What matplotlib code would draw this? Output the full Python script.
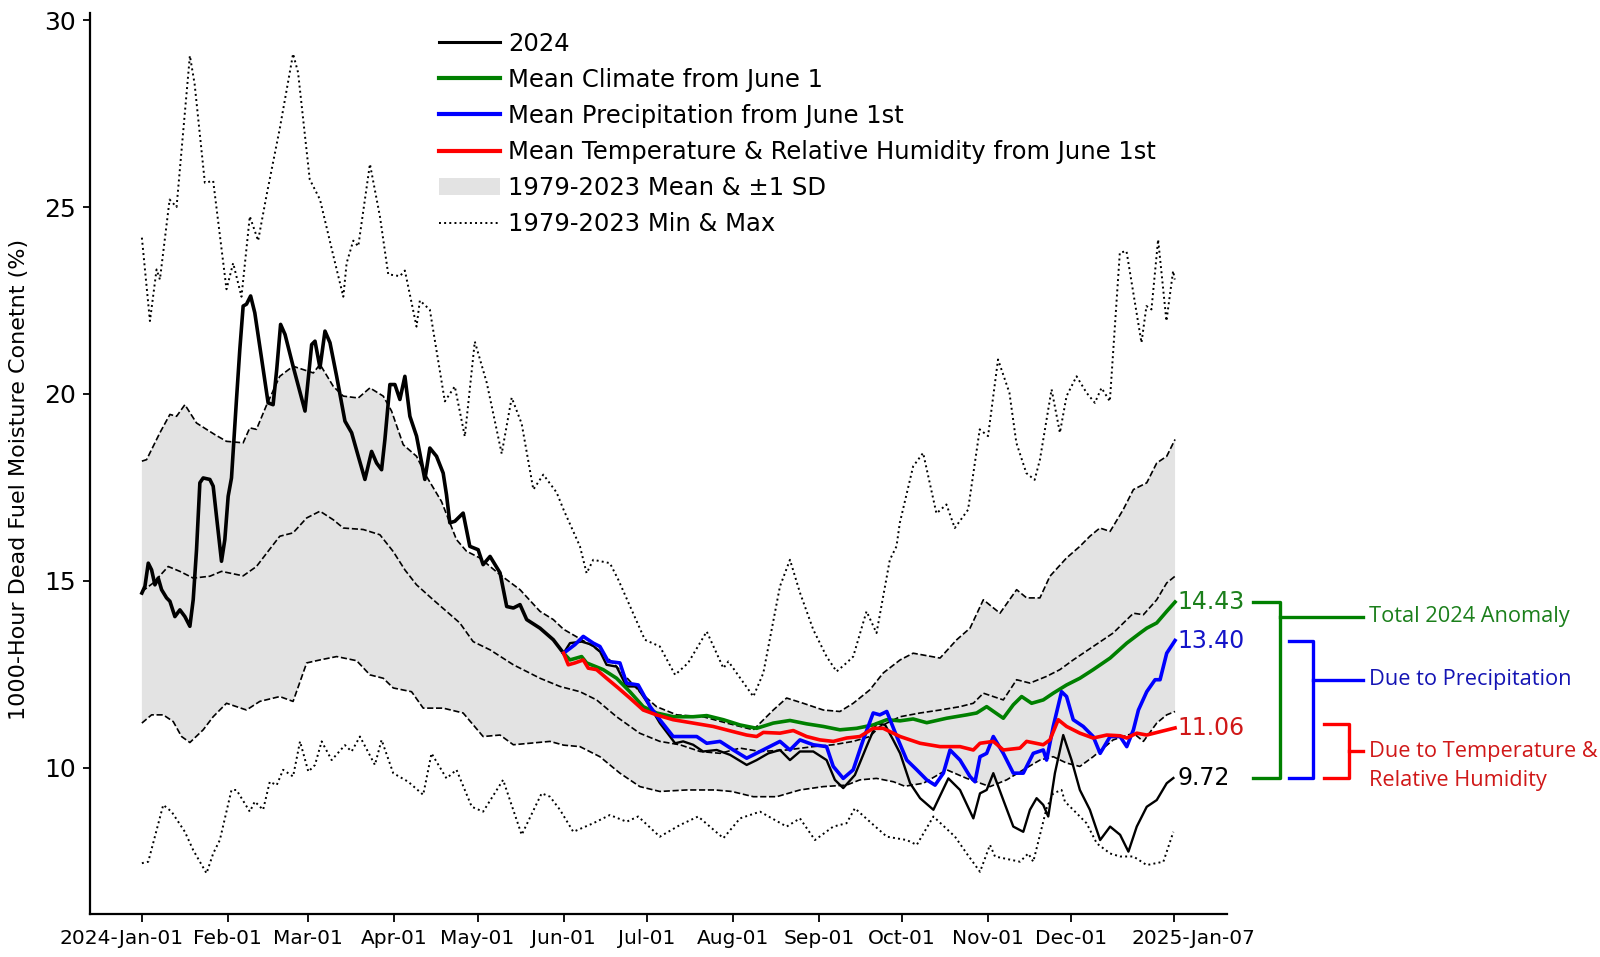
import numpy as np
import pandas as pd
import matplotlib
matplotlib.use("Agg")
import matplotlib.pyplot as plt
import matplotlib.dates as mdates
from matplotlib.lines import Line2D
from matplotlib.patches import Patch
from matplotlib import transforms

START = pd.Timestamp("2024-01-01")

# 1979-2023 max (dotted)
max_days = [0, 2.9, 5.3, 6.5, 10, 12.5, 17.3, 19, 22.7, 25.7, 30.5, 32.9, 35.9, 38.9, 41.9, 44.9,
            49.7, 54.5, 56.3, 60.5, 64.2, 69, 72.6, 73.8, 76.2, 78, 82.2, 85.8, 88.8, 93, 94.8, 99,
            100.2, 103.8, 109.2, 112.8, 116.4, 120, 124.3, 129.7, 133.3, 136.9, 141.1, 144.7, 149.5,
            152, 157.9, 159.1, 160.3, 162.7, 168.7, 171.7, 181.3, 186.7, 192.2, 196.9, 203.6, 209.6,
            211.4, 220.4, 224, 230, 233.6, 237.2, 242, 246.8, 250.4, 254, 256.4, 261.2, 264.8, 269.6,
            272, 273.2, 278, 281.6, 286.4, 290, 293, 297.8, 302, 305, 308.6, 312.7, 315.2, 318.8,
            321.8, 323.7, 327.9, 330.9, 333.3, 336.9, 340.5, 343.5, 345.9, 348.9, 352.5, 354.9,
            360.3, 362.1, 363.9, 366.3, 369.3, 371.7, 372.3]
max_vals = [24.18, 21.95, 23.33, 23.06, 25.2, 25.0, 29.05, 28.3, 25.65, 25.7, 22.8, 23.5, 22.6, 24.75,
            24.1, 25.3, 27.1, 29.1, 28.6, 25.74, 25.2, 23.7, 22.6, 23.5, 24.1, 23.95, 26.15, 24.75,
            23.2, 23.15, 23.3, 21.8, 22.5, 22.25, 19.8, 20.2, 18.86, 21.4, 20.3, 18.4, 19.9, 19.2,
            17.44, 17.84, 17.36, 16.9, 15.92, 15.56, 15.2, 15.56, 15.47, 15.03, 13.42, 13.24, 12.48,
            12.8, 13.64, 12.66, 12.84, 11.9, 12.53, 14.85, 15.56, 14.68, 13.69, 12.97, 12.57, 12.8,
            12.97, 14.18, 13.6, 15.56, 15.92, 16.55, 18.06, 18.42, 16.8, 17.04, 16.41, 16.9, 19.05,
            18.87, 20.92, 20.03, 18.69, 17.88, 17.7, 18.24, 20.12, 18.96, 19.94, 20.47, 20.03, 19.76,
            20.16, 19.8, 23.78, 23.82, 21.37, 22.35, 22.26, 24.13, 21.95, 23.29, 23.06]

# 1979-2023 min (dotted)
min_days = [0, 2.3, 7.7, 10.7, 15.5, 18.5, 23.3, 25.7, 28.1, 32.3, 34.1, 38.9, 40.7, 43.7, 46.1, 48.6,
            50.9, 54.5, 57, 60, 62.4, 64.8, 68.4, 73.2, 75.6, 78.6, 84, 86.4, 90.6, 96, 101.4, 104.4,
            109.8, 113.4, 118.9, 123, 130.2, 136.9, 144.1, 147.1, 150.7, 155.5, 162.7, 168.7, 174.7,
            178.9, 186.7, 193.9, 200.5, 209.6, 215.6, 222.8, 232.4, 237.2, 242.6, 249.2, 254, 257,
            262.4, 268.5, 275.7, 279.3, 285.3, 293.1, 297.3, 302.1, 305.7, 307.5, 316.5, 319.5, 321.3,
            326.1, 328.5, 331.5, 332.7, 336.9, 340.5, 344.2, 349, 352.6, 357.4, 362.2, 368.2, 371.8]
min_vals = [7.44, 7.48, 9.0, 8.82, 8.28, 7.79, 7.17, 7.7, 8.06, 9.4, 9.4, 8.82, 9.09, 8.87, 9.62, 9.53,
            9.94, 9.76, 10.7, 9.89, 10.07, 10.7, 10.2, 10.6, 10.43, 10.83, 10.07, 10.74, 9.85, 9.62,
            9.27, 10.38, 9.71, 9.94, 8.95, 8.82, 9.67, 8.2, 9.31, 9.22, 8.87, 8.28, 8.51, 8.73, 8.55,
            8.69, 8.15, 8.46, 8.69, 8.11, 8.64, 8.82, 8.42, 8.64, 8.06, 8.42, 8.51, 8.91, 8.55, 8.15,
            8.06, 7.93, 8.69, 8.15, 7.7, 7.21, 7.93, 7.62, 7.48, 7.7, 7.48, 8.91, 9.31, 9.4, 9.09,
            8.78, 8.51, 7.97, 7.7, 7.62, 7.62, 7.39, 7.48, 8.28]

# mean + 1 SD (dashed)
sd_hi_days = [0, 1.7, 6.5, 10.1, 12.5, 15.5, 19.7, 23.3, 26.3, 30.5, 36.5, 38.9, 41.3, 45, 49.7, 54.5,
              61.8, 64.2, 69, 72.6, 78, 82.2, 87, 90, 94.2, 99, 102.6, 108, 113.4, 117, 121.8, 129.1,
              136.3, 143.5, 148.3, 152, 155.5, 162.7, 169.9, 179.4, 185.5, 192.8, 202.3, 210.8, 220.4,
              227.6, 232.4, 238.4, 245.6, 251.6, 256.4, 262.4, 267.2, 273.3, 278, 287.7, 293.7, 298.5,
              303.3, 309.3, 315.3, 318.9, 323.7, 327.3, 333.3, 338.1, 341.7, 345.3, 349, 353.7, 357.4,
              362.2, 365.8, 369.4, 372.4]
sd_hi_vals = [18.2, 18.24, 18.96, 19.45, 19.4, 19.71, 19.22, 19.05, 18.91, 18.73, 18.69, 19.09, 19.05,
              19.71, 20.47, 20.74, 20.56, 20.79, 20.2, 19.94, 19.89, 20.16, 19.94, 19.54, 18.64, 18.33,
              17.79, 17.12, 16.1, 15.79, 15.61, 15.16, 14.76, 14.18, 13.96, 13.7, 13.55, 13.24, 12.8,
              12.03, 11.63, 11.41, 11.36, 11.19, 11.01, 11.54, 11.86, 11.72, 11.54, 11.5, 11.72, 12.08,
              12.53, 12.88, 13.06, 12.93, 13.42, 13.73, 14.49, 14.13, 14.76, 14.54, 14.54, 15.12, 15.61,
              15.92, 16.19, 16.41, 16.32, 16.9, 17.44, 17.62, 18.15, 18.33, 18.78]

# 1979-2023 mean (dashed)
mean_days = [0, 4.1, 9.5, 13.7, 18.5, 24.5, 28.7, 36.5, 41.3, 45, 49.7, 54.5, 59.4, 64.2, 69, 72.6,
             79.8, 85.8, 90.6, 94.8, 99, 105, 109.8, 114.6, 119.4, 125.5, 133.9, 143.5, 150.7, 157.9,
             163.9, 171.1, 179.4, 186.7, 193.9, 201.2, 208.4, 215.6, 222.8, 232.4, 242, 249.2, 256.4,
             262.4, 266, 273.3, 280.5, 287.7, 294.9, 299.7, 303.3, 306.9, 310.5, 315.3, 320.1, 326.1,
             330.9, 335.7, 342.9, 350.1, 357.4, 361, 365.8, 369.4, 372.4]
mean_vals = [14.71, 14.94, 15.38, 15.25, 15.07, 15.12, 15.25, 15.13, 15.38, 15.74, 16.19, 16.28, 16.68,
             16.86, 16.63, 16.41, 16.37, 16.23, 15.78, 15.29, 14.89, 14.49, 14.18, 13.87, 13.37, 13.15,
             12.75, 12.39, 12.17, 12.03, 11.81, 11.36, 10.92, 10.7, 10.61, 10.43, 10.38, 10.52, 10.43,
             10.47, 10.56, 10.61, 10.7, 10.83, 11.1, 11.36, 11.46, 11.54, 11.63, 11.72, 11.99, 11.9,
             11.81, 12.35, 12.26, 12.44, 12.62, 12.88, 13.24, 13.6, 14.13, 14.09, 14.49, 14.94, 15.12]

# mean - 1 SD (dashed)
sd_lo_days = [0, 3.5, 7.7, 11.3, 14.3, 17.3, 22.1, 25.7, 30.5, 37.7, 42.5, 49.7, 54.5, 59.4, 64.2, 70.2,
              77.4, 82.2, 87, 90.6, 97.2, 101.4, 108.6, 115.8, 123, 129.1, 133.9, 147.1, 152, 157.9,
              165.1, 172.3, 179.5, 186.7, 196.3, 206.6, 212.6, 220.4, 228.8, 237.2, 245.6, 254, 258.8,
              264.8, 270.9, 275, 281.7, 290.1, 297.3, 305.7, 311.7, 317.7, 323.7, 328.5, 333.3, 338.1,
              342.9, 350.1, 357.4, 361, 365.8, 369.4, 372.4]
sd_lo_vals = [11.19, 11.41, 11.41, 11.23, 10.83, 10.67, 11.01, 11.36, 11.72, 11.54, 11.77, 11.9, 11.77,
              12.8, 12.88, 12.97, 12.86, 12.48, 12.39, 12.13, 12.03, 11.59, 11.59, 11.46, 10.83, 10.87,
              10.61, 10.7, 10.6, 10.56, 10.29, 9.85, 9.49, 9.36, 9.4, 9.4, 9.36, 9.22, 9.22, 9.4, 9.49,
              9.53, 9.67, 9.71, 9.62, 9.5, 9.58, 9.94, 9.71, 9.49, 9.67, 9.94, 10.2, 10.29, 10.12,
              10.03, 10.29, 10.74, 10.92, 10.7, 11.19, 11.41, 11.5]

# 2024 observed
obs_days = [0, 1.1, 2.3, 3.5, 4.7, 5.9, 7.1, 8.9, 10.1, 11.9, 13.7, 15.5, 17.3, 18.5, 19.7, 20.9, 22.1,
            24.5, 25.7, 26.9, 28.7, 29.9, 31.1, 32.3, 34.1, 35.3, 36.5, 37.7, 39.2, 40.7, 43.2, 45.5,
            47.3, 48.6, 50, 51.6, 54.5, 58.8, 61.2, 62.4, 64.2, 66, 67.8, 70.2, 73.2, 75.6, 78, 80.4,
            82.8, 84.6, 86.4, 87.6, 89.4, 91.2, 93, 94.8, 96.6, 99, 102, 103.8, 106.2, 108.6, 109.8,
            111, 112.8, 115.8, 118.2, 121.2, 123, 125.5, 129.1, 131.5, 133.9, 136.3, 138.7, 143.5,
            148.3, 152,
            154.3, 158.5, 162.1, 165.1, 167.5, 171.1, 174.7, 178.3, 183.2, 186.7, 192.2, 195.1, 198.7,
            202.3, 207.2, 212, 218, 221.6, 225.8, 230, 233.6, 237.2, 242, 246.8, 249.8, 252.8, 257,
            261.2, 264.8, 267.9, 270.8, 273.3, 276.9, 280.5, 285.3, 290.7, 294.9, 299.7, 302.1, 304.5,
            306.9, 310.5, 314.1, 317.7, 320.1, 322.5, 324.9, 326.7, 329.1, 332.1, 335.1, 338.1, 341.7,
            345.4, 349, 352.6, 355.6, 358.6, 362.2, 365.8, 369.4, 371.8]
obs_vals = [14.67, 14.85, 15.47, 15.29, 14.89, 15.07, 14.76, 14.54, 14.45, 14.04, 14.22, 14.04, 13.78,
            14.49, 15.83, 17.62, 17.75, 17.71, 17.53, 16.72, 15.52, 16.1, 17.26, 17.75, 19.85, 21.19,
            22.35, 22.4, 22.62, 22.17, 20.92, 19.76, 19.71, 20.65, 21.86, 21.59, 20.74, 19.54, 21.32,
            21.41, 20.7, 21.68, 21.37, 20.47, 19.27, 18.96, 18.33, 17.71, 18.46, 18.15, 17.97, 18.78,
            20.25, 20.25, 19.85, 20.47, 19.4, 18.87, 17.71, 18.55, 18.33, 17.88, 17.3, 16.55, 16.59,
            16.81, 15.92, 15.83, 15.43, 15.65, 15.21, 14.31, 14.27, 14.36, 13.96, 13.73, 13.42, 13.06,
            13.33, 13.37, 13.29, 13.11, 12.75, 12.7, 12.17, 12.17, 11.63, 11.19, 10.65, 10.7, 10.61,
            10.43, 10.47, 10.34, 10.07, 10.2, 10.38, 10.47, 10.2, 10.43, 10.43, 10.2, 9.67, 9.45, 9.8,
            10.56, 11.19, 11.14, 10.74, 10.38, 9.58, 9.18, 8.87, 9.71, 9.4, 8.64, 9.31, 9.4, 9.85,
            9.13, 8.42, 8.28, 8.87, 9.18, 9.0, 8.69, 9.85, 10.87, 10.2, 9.4, 8.87, 8.06, 8.42, 8.2,
            7.75, 8.42, 8.95, 9.13, 9.58, 9.72]
june_idx = 77  # index of June 1 in obs_days

# counterfactual runs from June 1
clim_days = [152, 154.3, 158.5, 160.3, 166.3, 171.1, 175.9, 180.7, 185.5, 191.5, 198.7, 203.6, 209.6,
             215.6, 221.6, 227.6, 233.6, 239.6, 245.6, 251.6, 257.6, 263.6, 268.5, 273.3, 278, 282.9,
             290.1, 297.3, 300.9, 304.5, 310.5, 314.1, 317.1, 320.7, 324.9, 328.5, 333.3, 338.1,
             342.9, 349, 355, 359.8, 362.2, 365.8, 369.4, 372.4]
clim_vals = [13.06, 12.88, 12.97, 12.8, 12.62, 12.39, 12.03, 11.63, 11.46, 11.36, 11.36, 11.39, 11.28,
             11.14, 11.05, 11.19, 11.26, 11.17, 11.1, 11.01, 11.05, 11.14, 11.28, 11.25, 11.3, 11.2,
             11.32, 11.41, 11.46, 11.63, 11.32, 11.68, 11.9, 11.72, 11.81, 11.99, 12.21, 12.39, 12.62,
             12.93, 13.33, 13.6, 13.73, 13.87, 14.18, 14.43]

precip_days = [152, 156.1, 159.1, 162.7, 165.1, 168.1, 172.3, 174.7, 178.9, 183.2, 186.7, 191.5, 196.4,
               200, 203.6, 208.4, 213.2, 218, 222.8, 230, 233.6, 237.2, 242, 246.8, 249.2, 252.8, 256.4,
               260, 263.6, 266, 268.5, 272.1, 275.7, 279.3, 282.9, 285.9, 288.9, 291.3, 294.9, 298.5,
               300.3, 302.1, 304.5, 306.9, 310.5, 314.1, 317.7, 321.3, 324.9, 326.1, 328.5, 331.5,
               333.3, 335.7, 339.3, 342.9, 345.4, 349, 352.6, 355, 357.4, 359.2, 362.2, 365.2, 367,
               369.4, 372.4]
precip_vals = [13.06, 13.29, 13.51, 13.33, 13.24, 12.84, 12.8, 12.26, 12.21, 11.63, 11.28, 10.83, 10.83,
               10.83, 10.65, 10.7, 10.47, 10.25, 10.43, 10.7, 10.47, 10.74, 10.61, 10.56, 10.03, 9.71,
               9.94, 10.74, 11.46, 11.41, 11.5, 10.83, 10.2, 9.94, 9.67, 9.53, 9.85, 10.47, 10.2, 9.76,
               9.62, 10.29, 10.38, 10.83, 10.38, 9.85, 9.85, 10.38, 10.47, 10.2, 11.1, 12.03, 11.9,
               11.28, 11.1, 10.83, 10.38, 10.83, 10.83, 10.56, 11.01, 11.54, 12.03, 12.35, 12.35, 13.06,
               13.40]

temp_days = [152, 153.7, 156.1, 159.1, 160.9, 163.9, 167.5, 171.7, 175.9, 180.7, 185.5, 191.5, 198.7,
             205.9, 213.2, 218, 221.6, 224, 230, 234.8, 239.6, 244.4, 249.2, 254, 258.8, 263.6, 267.2,
             273.3, 280.5, 287.7, 294.9, 299.7, 302.1, 306.9, 310.5, 316.5, 318.9, 324.9, 327.3, 330.3,
             333.3, 338.1, 342.9, 347.8, 352.6, 355, 358.6, 362.2, 367, 372.4]
temp_vals = [13.06, 12.75, 12.8, 12.88, 12.66, 12.62, 12.39, 12.13, 11.86, 11.54, 11.41, 11.28, 11.19,
             11.1, 10.96, 10.87, 10.83, 10.94, 10.92, 10.99, 10.83, 10.74, 10.7, 10.79, 10.83, 11.05,
             11.05, 10.83, 10.65, 10.56, 10.56, 10.47, 10.65, 10.7, 10.47, 10.52, 10.7, 10.61, 10.74,
             11.28, 11.1, 10.92, 10.79, 10.87, 10.85, 10.79, 10.92, 10.87, 10.96, 11.06]

end_labels = ["14.43", "13.40", "11.06", "9.72"]
end_values = [14.43, 13.40, 11.06, 9.72]
end_colors = ["#1b7f1b", "#1414c8", "#d01818", "black"]

tick_dates = ["2024-01-01", "2024-02-01", "2024-03-01", "2024-04-01", "2024-05-01", "2024-06-01",
              "2024-07-01", "2024-08-01", "2024-09-01", "2024-10-01", "2024-11-01", "2024-12-01",
              "2025-01-07"]
tick_labels = ["2024-Jan-01", "Feb-01", "Mar-01", "Apr-01", "May-01", "Jun-01", "Jul-01", "Aug-01",
               "Sep-01", "Oct-01", "Nov-01", "Dec-01", "2025-Jan-07"]


def to_x(days):
    d = START + pd.to_timedelta(np.asarray(days, dtype=float), unit="D")
    return mdates.date2num(d.to_pydatetime())


fig = plt.figure(figsize=(16, 9.57), dpi=100)
ax = fig.add_axes([0.05625, 0.0449, 0.7104, 0.9418])

band_x = np.concatenate([to_x(sd_hi_days), to_x(sd_lo_days)[::-1]])
band_y = np.concatenate([sd_hi_vals, sd_lo_vals[::-1]])
ax.fill(band_x, band_y, color="#e3e3e3", lw=0, zorder=1)

for d, v in [(sd_hi_days, sd_hi_vals), (mean_days, mean_vals), (sd_lo_days, sd_lo_vals)]:
    ax.plot(to_x(d), v, color="black", ls="--", lw=1.2, zorder=2)
for d, v in [(max_days, max_vals), (min_days, min_vals)]:
    ax.plot(to_x(d), v, color="black", ls=":", lw=1.4, zorder=2)

ox = to_x(obs_days)
ax.plot(ox[:june_idx + 1], obs_vals[:june_idx + 1], color="black", lw=2.6, zorder=3)
ax.plot(ox[june_idx:], obs_vals[june_idx:], color="black", lw=1.7, zorder=3)
ax.plot(to_x(clim_days), clim_vals, color="green", lw=2.6, zorder=4)
ax.plot(to_x(precip_days), precip_vals, color="blue", lw=2.6, zorder=4)
ax.plot(to_x(temp_days), temp_vals, color="red", lw=2.6, zorder=4)

# end-of-series values
lx = to_x([373.2])[0]
for lab, val, col in zip(end_labels, end_values, end_colors):
    ax.text(lx, val, lab, color=col, fontsize=17, va="center", ha="left", clip_on=False)

# brackets on the right
tr = transforms.blended_transform_factory(ax.transAxes, ax.transData)
brackets = [
    (1.0231, 1.0469, 14.43, 9.72, 14.04, "green", "#1b7f1b", ["Total 2024 Anomaly"]),
    (1.0548, 1.0759, 13.40, 9.72, 12.35, "blue", "#1414b4", ["Due to Precipitation"]),
    (1.0856, 1.1079, 11.17, 9.72, 10.43, "red", "#d01818", ["Due to Temperature &", "Relative Humidity"]),
]
for x0, x1, top, bot, mid, col, tcol, lines in brackets:
    ax.plot([x0, x1, x1, x0], [top, top, bot, bot], color=col, lw=2.4, transform=tr, clip_on=False)
    ax.plot([x1, 1.1199], [mid, mid], color=col, lw=2.4, transform=tr, clip_on=False)
    for i, txt in enumerate(lines):
        ax.text(1.1252, mid - 0.77 * i, txt, color=tcol, fontsize=15.7, family="Open Sans",
                va="center", ha="left", transform=tr, clip_on=False)

ax.set_xlim(to_x([-18.7])[0], to_x([391])[0])
ax.set_ylim(6.08, 30.2)
ax.set_xticks(to_x([(pd.Timestamp(t) - START).days for t in tick_dates]))
ax.set_xticklabels(tick_labels, fontsize=14.5)
ax.set_yticks([10, 15, 20, 25, 30])
ax.tick_params(axis="y", labelsize=18, length=5, width=1.3, pad=5)
ax.tick_params(axis="x", length=6, width=1.3, pad=5)
ax.set_ylabel("1000-Hour Dead Fuel Moisture Conetnt (%)", fontsize=16)
ax.yaxis.set_label_coords(-0.054, 0.482)
for s in ["top", "right"]:
    ax.spines[s].set_visible(False)
for s in ["left", "bottom"]:
    ax.spines[s].set_linewidth(1.6)

# first and last date labels sit off their ticks in the original
xl = ax.get_xticklabels()
xl[0].set_transform(xl[0].get_transform() + transforms.ScaledTranslation(-0.2, 0, fig.dpi_scale_trans))
xl[-1].set_transform(xl[-1].get_transform() + transforms.ScaledTranslation(0.195, 0, fig.dpi_scale_trans))

handles = [
    Line2D([], [], color="black", lw=2.2),
    Line2D([], [], color="green", lw=3),
    Line2D([], [], color="blue", lw=3),
    Line2D([], [], color="red", lw=3),
    Patch(facecolor="#e3e3e3", edgecolor="none"),
    Line2D([], [], color="black", ls=":", lw=1.4),
]
labels = ["2024", "Mean Climate from June 1", "Mean Precipitation from June 1st",
          "Mean Temperature & Relative Humidity from June 1st", "1979-2023 Mean & \u00b11 SD",
          "1979-2023 Min & Max"]
fig.legend(handles, labels, loc="upper left", bbox_to_anchor=(0.2744, 0.967), frameon=False,
           fontsize=17.5, handlelength=2.5, handletextpad=0.35, labelspacing=0.5,
           borderpad=0, borderaxespad=0)

fig.savefig("out.png", dpi=100)
